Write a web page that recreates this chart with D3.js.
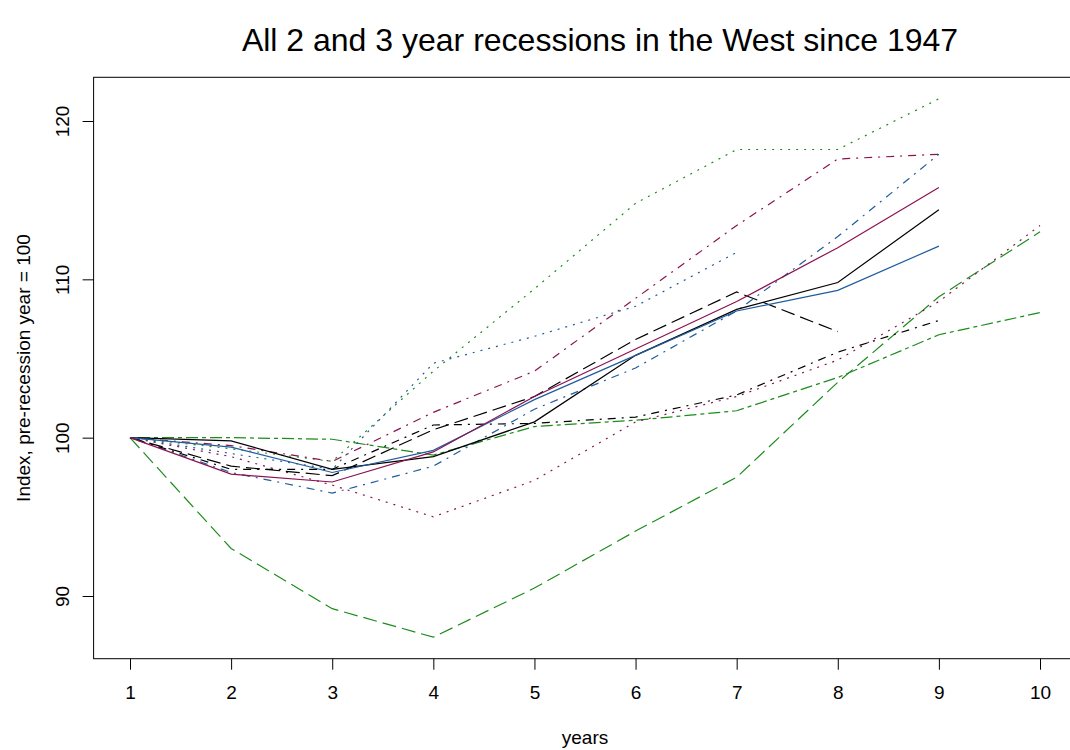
<!DOCTYPE html>
<html>
<head>
<meta charset="utf-8">
<script src="https://cdn.jsdelivr.net/npm/d3@7"></script>
<style>
  body { margin: 0; background: #fff; }
  text { font-family: 'Liberation Sans', Arial, sans-serif; fill: #000; }
</style>
</head>
<body>
<div id="chart"></div>
<script>
// year index on the x axis
const years = [1, 2, 3, 4, 5, 6, 7, 8, 9, 10]
const xTicks = [1, 2, 3, 4, 5, 6, 7, 8, 9, 10]
const yTicks = [90, 100, 110, 120]

// one array per recession, index values starting at year 1
const blackSolid = [100, 99.8, 98.0, 98.8, 101.0, 105.2, 108.1, 109.8, 114.4]
const blueSolid = [100, 99.4, 97.8, 99.2, 102.4, 105.2, 108.0, 109.3, 112.1]
const maroonSolid = [100, 97.7, 97.2, 99.1, 102.6, 105.6, 108.6, 112.0, 115.8]
const blackLongdash = [100, 98.2, 97.6, 100.5, 102.6, 106.2, 109.2, 106.7]
const blackDotdash = [100, 98.0, 98.0, 100.8, 100.9, 101.3, 102.7, 105.4, 107.4]
const blueDotted = [100, 99.0, 98.0, 104.7, 106.4, 108.3, 111.7]
const blueDotdash = [100, 97.8, 96.5, 98.2, 101.8, 104.4, 108.0, 112.7, 117.9]
const maroonDotdash = [100, 99.5, 98.5, 101.6, 104.2, 108.8, 113.4, 117.6, 117.9]
const maroonDotted = [100, 98.8, 97.0, 95.0, 97.3, 101.0, 102.6, 104.9, 108.6, 113.4]
const greenLongdash = [100, 93.0, 89.2, 87.4, 90.5, 94.1, 97.5, 103.5, 108.9, 113.0]
const greenTwodash = [100, 100, 99.9, 98.9, 100.7, 101.1, 101.7, 103.8, 106.5, 107.9]
const greenDotted = [100, 99.3, 98.5, 104.2, 109.4, 114.8, 118.2, 118.2, 121.4]

const BLACK = '#000000', BLUE = '#1f5c9e', MAROON = '#8c1250', GREEN = '#1c8c1c'

// R style line types at this device resolution
const SOLID = null
const LONGDASH = '14,6'
const DOTTED = '2,6'
const DOTDASH = '2,6,8,6'
const TWODASH = '4,4,12,4'

const series = [
  { values: greenLongdash, color: GREEN, dash: LONGDASH },
  { values: greenTwodash, color: GREEN, dash: TWODASH },
  { values: greenDotted, color: GREEN, dash: DOTTED },
  { values: maroonDotted, color: MAROON, dash: DOTTED },
  { values: maroonDotdash, color: MAROON, dash: DOTDASH },
  { values: blueDotted, color: BLUE, dash: DOTTED },
  { values: blueDotdash, color: BLUE, dash: DOTDASH },
  { values: blackDotdash, color: BLACK, dash: DOTDASH },
  { values: blackLongdash, color: BLACK, dash: LONGDASH },
  { values: blackSolid, color: BLACK, dash: SOLID },
  { values: blueSolid, color: BLUE, dash: SOLID },
  { values: maroonSolid, color: MAROON, dash: SOLID }
]

const W = 1070, H = 750
const margin = { top: 77.3, left: 93.6 }
const width = 982.8
const height = 581.4
const fontSize = 19

const x = d3.scaleLinear().domain([0.64, 10.36]).range([0, width])
const y = d3.scaleLinear().domain([86.04, 122.76]).range([height, 0])

const svg = d3.select('#chart')
  .append('svg')
  .attr('width', W)
  .attr('height', H)

// Title
svg.append('text')
  .attr('x', 600)
  .attr('y', 51)
  .attr('text-anchor', 'middle')
  .attr('font-size', 32)
  .text('All 2 and 3 year recessions in the West since 1947')

const g = svg.append('g')
  .attr('transform', `translate(${margin.left},${margin.top})`)

// Lines
const line = d3.line()
  .x((d, i) => x(years[i]))
  .y(d => y(d))

g.selectAll('path.series')
  .data(series)
  .enter()
  .append('path')
  .attr('class', 'series')
  .attr('fill', 'none')
  .attr('stroke', d => d.color)
  .attr('stroke-width', 1.2)
  .attr('stroke-dasharray', d => d.dash)
  .attr('d', d => line(d.values))

// Box round the plot region
g.append('rect')
  .attr('width', width)
  .attr('height', height)
  .attr('fill', 'none')
  .attr('stroke', '#000')
  .attr('stroke-width', 1)

// X axis
g.append('g')
  .attr('transform', `translate(0,${height})`)
  .call(d3.axisBottom(x).tickValues(xTicks).tickSize(11).tickFormat(d3.format('d')))
  .call(g => g.select('.domain').remove())
  .call(g => g.selectAll('.tick text')
    .attr('font-size', fontSize)
    .attr('font-family', "'Liberation Sans', Arial, sans-serif")
    .attr('y', 40)
    .attr('dy', null))

// Y axis with R-style rotated labels
g.append('g')
  .call(d3.axisLeft(y).tickValues(yTicks).tickSize(11).tickFormat(d3.format('d')))
  .call(g => g.select('.domain').remove())
  .call(g => g.selectAll('.tick text')
    .attr('font-size', fontSize)
    .attr('font-family', "'Liberation Sans', Arial, sans-serif")
    .attr('text-anchor', 'middle')
    .attr('x', null)
    .attr('dy', null)
    .attr('transform', 'translate(-25,0) rotate(-90)'))

// Axis titles
svg.append('text')
  .attr('x', margin.left + width / 2)
  .attr('y', 744)
  .attr('text-anchor', 'middle')
  .attr('font-size', fontSize)
  .text('years')

svg.append('text')
  .attr('transform', `translate(30,${margin.top + height / 2}) rotate(-90)`)
  .attr('text-anchor', 'middle')
  .attr('font-size', fontSize)
  .text('Index, pre-recession year = 100')
</script>
</body>
</html>
